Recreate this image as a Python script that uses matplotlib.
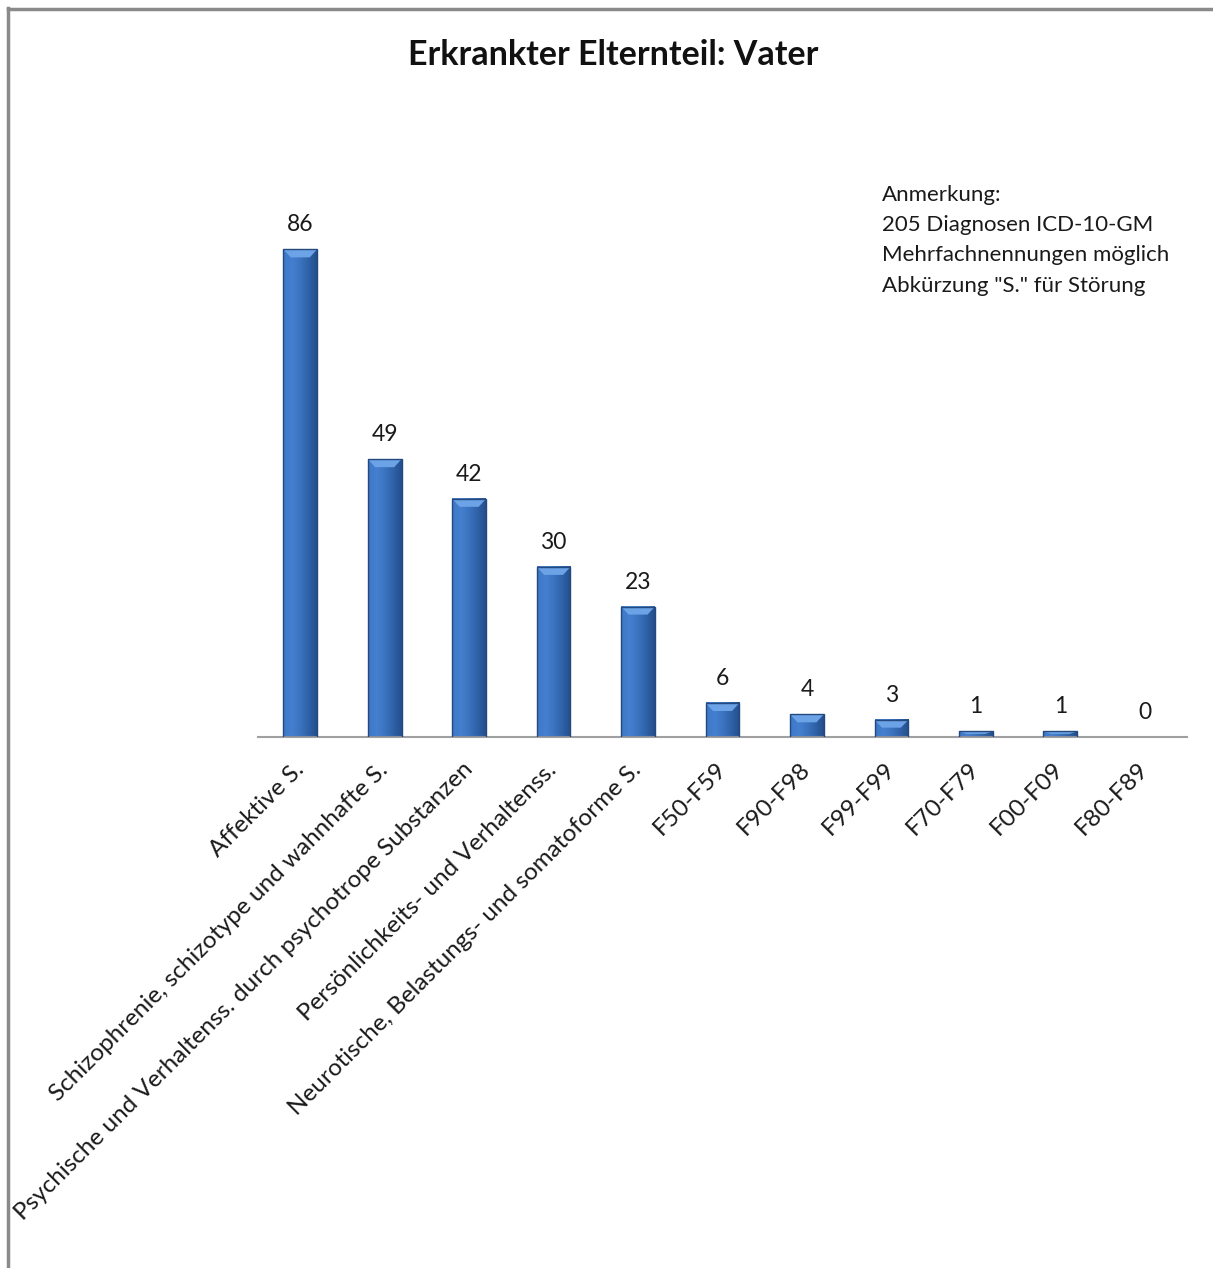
import matplotlib.pyplot as plt
import matplotlib.patches as mpatches
from matplotlib.colors import LinearSegmentedColormap
import numpy as np

plt.rcParams['font.family'] = ['Lato', 'DejaVu Sans']

# Diagnosen des erkrankten Vaters
categories = ['Affektive S.',
              'Schizophrenie, schizotype und wahnhafte S.',
              'Psychische und Verhaltenss. durch psychotrope Substanzen',
              'Persönlichkeits- und Verhaltenss.',
              'Neurotische, Belastungs- und somatoforme S.',
              'F50-F59', 'F90-F98', 'F99-F99', 'F70-F79', 'F00-F09', 'F80-F89']
counts = [86, 49, 42, 30, 23, 6, 4, 3, 1, 1, 0]

title = 'Erkrankter Elternteil: Vater'
note = ('Anmerkung:\n205 Diagnosen ICD-10-GM\n'
        'Mehrfachnennungen möglich\nAbkürzung "S." für Störung')

W, H = 1213, 1268
fig = plt.figure(figsize=(W / 100, H / 100), dpi=100)
ax = fig.add_axes([258 / W, 1 - 737 / H, 929 / W, 567 / H])

x = np.arange(len(categories))
bw = 0.40
ax.set_xlim(-0.5, len(categories) - 0.5)
ax.set_ylim(0, 100)

# Verlauf für den 3D-Effekt der Säulen
grad_cmap = LinearSegmentedColormap.from_list(
    'bar', ['#3D77C6', '#4580D0', '#3B74C0', '#2F62A8', '#244F8C'])
grad = np.linspace(0, 1, 64).reshape(1, -1)
px_per_unit = 567 / 100

for xi, v in zip(x, counts):
    if v <= 0:
        continue
    x0, x1 = xi - bw / 2, xi + bw / 2
    ax.imshow(grad, extent=[x0, x1, 0, v], aspect='auto', cmap=grad_cmap,
              origin='lower', zorder=2, interpolation='bicubic')
    # Abschrägung oben
    bev = min(8 / px_per_unit, v * 0.45)
    inset = bw * 0.22
    top = mpatches.Polygon([[x0, v], [x1, v], [x1 - inset, v - bev],
                            [x0 + inset, v - bev]],
                           closed=True, facecolor='#6CA2E6',
                           edgecolor='none', zorder=3)
    ax.add_patch(top)
    ax.add_patch(mpatches.Rectangle((x0, 0), bw, v, facecolor='none',
                                    edgecolor='#23497F', lw=1.0, zorder=4))

for xi, v in zip(x, counts):
    ax.annotate(str(v), (xi, v), xytext=(0, 13), textcoords='offset points',
                ha='center', va='baseline', fontsize=16.5, color='#1a1a1a')

for s in ['left', 'right', 'top']:
    ax.spines[s].set_visible(False)
ax.spines['bottom'].set_color('#A0A0A0')
ax.spines['bottom'].set_linewidth(1.5)
ax.set_yticks([])
ax.set_xticks(x)
ax.tick_params(axis='x', length=0, pad=21)
ax.set_xticklabels(categories, rotation=45, ha='right', va='center',
                   rotation_mode='anchor', fontsize=17.5, color='#1a1a1a')

fig.text(613 / W, 1 - 55 / H, title, ha='center', va='center',
         fontsize=24.5, fontweight='bold', color='#111111')
fig.text(882 / W, 1 - 185 / H, note, ha='left', va='top', fontsize=16,
         linespacing=1.64, color='#1a1a1a')

# Rahmen des Diagramms
fig.add_artist(plt.Line2D([8 / W, 8 / W], [0, 1 - 8 / H],
                          color='#8A8A8A', lw=2.5, transform=fig.transFigure))
fig.add_artist(plt.Line2D([8 / W, 1], [1 - 9 / H, 1 - 9 / H],
                          color='#8A8A8A', lw=2.5, transform=fig.transFigure))

fig.savefig('out.png', dpi=100)
